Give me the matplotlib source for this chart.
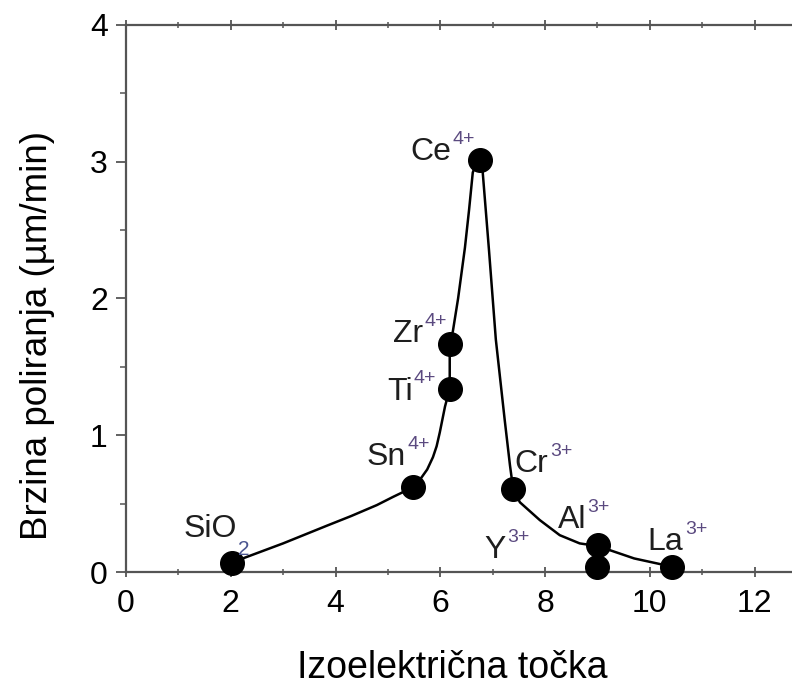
import matplotlib
matplotlib.use("Agg")
import matplotlib.pyplot as plt
from matplotlib.ticker import MultipleLocator

plt.rcParams['font.family'] = ['Liberation Sans', 'DejaVu Sans']

# measured points (isoelectric point, polishing rate)
names = ['SiO', 'Sn', 'Ti', 'Zr', 'Ce', 'Cr', 'Al', 'Y', 'La']
charges = ['2', '4+', '4+', '4+', '4+', '3+', '3+', '3+', '3+']
iep = [2.02, 5.48, 6.18, 6.18, 6.76, 7.39, 9.01, 8.99, 10.42]
rate = [0.07, 0.62, 1.34, 1.67, 3.01, 0.61, 0.20, 0.04, 0.04]

# label positions (left edge, baseline) in data units
label_x = [1.09, 4.60, 4.98, 5.09, 5.42, 7.42, 8.24, 6.85, 9.96]
label_y = [0.26, 0.78, 1.26, 1.68, 3.01, 0.73, 0.32, 0.10, 0.16]

# guide curve
curve_x = [2.02, 3.00, 3.84, 4.30, 4.79, 5.10, 5.48, 5.62, 5.75, 5.86, 5.93,
           5.99, 6.09, 6.18, 6.18, 6.24, 6.34, 6.47, 6.55, 6.62, 6.70, 6.76,
           6.81, 6.93, 7.06, 7.23, 7.33, 7.39, 7.52, 7.90, 8.28, 8.66, 9.01,
           9.70, 10.42]
curve_y = [0.07, 0.21, 0.34, 0.41, 0.49, 0.55, 0.62, 0.68, 0.75, 0.84, 0.92,
           1.02, 1.21, 1.34, 1.67, 1.76, 2.00, 2.37, 2.65, 2.92, 3.00, 3.01,
           2.92, 2.35, 1.70, 1.11, 0.78, 0.61, 0.51, 0.38, 0.27, 0.21, 0.19,
           0.10, 0.04]

fig = plt.figure(figsize=(7.92, 6.86), dpi=100)
ax = fig.add_axes([0.159, 0.166, 0.86, 0.798])

ax.plot(curve_x, curve_y, color='black', lw=1.8, zorder=2)
ax.plot(iep, rate, 'o', color='black', markersize=17, zorder=3, clip_on=False)

for name, charge, lx, ly in zip(names, charges, label_x, label_y):
    base = ax.text(lx, ly, name, fontsize=23, color='#1e1e1e',
                   ha='left', va='baseline')
    if charge == '2':
        ax.annotate(charge, xy=(1, 0), xycoords=base, xytext=(1, -8),
                    textcoords='offset points', fontsize=15, color='#4a5590',
                    ha='left', va='baseline')
    else:
        ax.annotate(charge, xy=(1, 0), xycoords=base, xytext=(1, 17),
                    textcoords='offset points', fontsize=14, color='#5b4a80',
                    ha='left', va='baseline')

ax.set_xlim(0, 13)
ax.set_ylim(0, 4)
ax.xaxis.set_major_locator(MultipleLocator(2))
ax.xaxis.set_minor_locator(MultipleLocator(1))
ax.yaxis.set_major_locator(MultipleLocator(1))
ax.yaxis.set_minor_locator(MultipleLocator(0.5))

for side in ['left', 'bottom', 'top']:
    ax.spines[side].set_color('#555555')
    ax.spines[side].set_linewidth(1.6)
ax.spines['right'].set_visible(False)

ax.tick_params(which='major', direction='out', length=7, width=1.3,
               color='#555555', labelsize=23)
ax.tick_params(which='minor', direction='out', length=4, width=1.1,
               color='#555555')
ax.tick_params(axis='x', which='both', top=True, direction='inout', pad=9)
ax.tick_params(axis='x', which='major', length=7)
ax.tick_params(axis='y', which='both', right=False, pad=6)

fig.text(452 / 792, 8 / 686, 'Izoelektrična točka', fontsize=27,
         ha='center', va='baseline')
fig.text(38 / 792, 1 - 335 / 686, 'Brzina poliranja (µm/min)', fontsize=26.5,
         rotation=90, ha='center', va='center')

fig.savefig('out.png', dpi=100)
